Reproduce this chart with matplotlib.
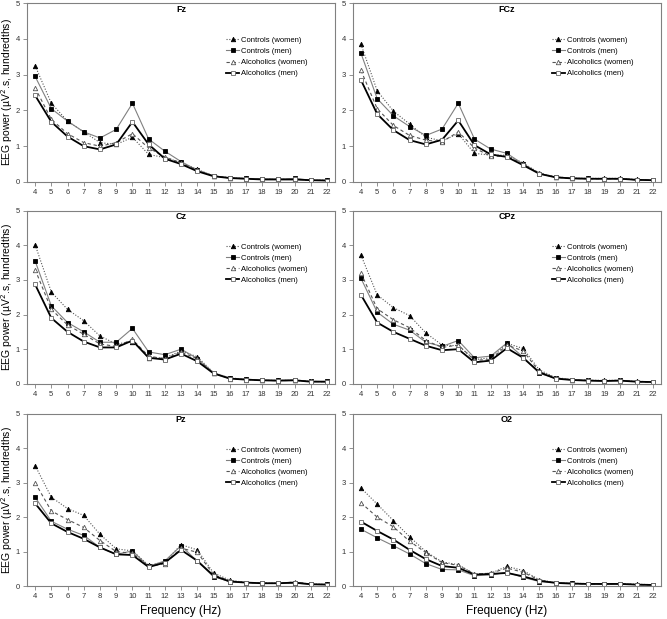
import matplotlib
matplotlib.use("Agg")
import matplotlib.pyplot as plt
import numpy as np

plt.rcParams['font.family'] = ['Liberation Sans', 'DejaVu Sans']

freq = list(range(4, 23))
groups = ['Controls (women)', 'Controls (men)', 'Alcoholics (women)', 'Alcoholics (men)']

fz = [
    [3.25, 2.2, 1.7, 1.4, 1.1, 1.05, 1.25, 0.77, 0.68, 0.55, 0.35, 0.17, 0.12, 0.1, 0.08, 0.08, 0.08, 0.05, 0.05],
    [2.95, 2.05, 1.7, 1.4, 1.23, 1.47, 2.2, 1.2, 0.86, 0.57, 0.33, 0.17, 0.12, 0.1, 0.09, 0.08, 0.1, 0.05, 0.05],
    [2.63, 1.75, 1.35, 1.1, 1.0, 1.1, 1.35, 0.95, 0.7, 0.53, 0.33, 0.17, 0.11, 0.09, 0.08, 0.07, 0.08, 0.05, 0.04],
    [2.42, 1.68, 1.27, 1.0, 0.91, 1.05, 1.68, 1.05, 0.65, 0.5, 0.3, 0.16, 0.11, 0.09, 0.07, 0.07, 0.07, 0.05, 0.04],
]
fcz = [
    [3.85, 2.55, 1.98, 1.62, 1.25, 1.15, 1.35, 0.8, 0.75, 0.75, 0.53, 0.25, 0.14, 0.11, 0.1, 0.1, 0.1, 0.07, 0.05],
    [3.6, 2.33, 1.85, 1.55, 1.3, 1.48, 2.2, 1.2, 0.92, 0.8, 0.5, 0.23, 0.14, 0.11, 0.1, 0.09, 0.09, 0.06, 0.05],
    [3.12, 2.05, 1.58, 1.3, 1.17, 1.12, 1.4, 0.95, 0.72, 0.72, 0.5, 0.24, 0.13, 0.1, 0.09, 0.09, 0.09, 0.06, 0.05],
    [2.85, 1.9, 1.45, 1.17, 1.05, 1.18, 1.72, 1.03, 0.77, 0.7, 0.47, 0.23, 0.13, 0.1, 0.09, 0.09, 0.09, 0.06, 0.05],
]
cz = [
    [4.02, 2.65, 2.15, 1.82, 1.38, 1.15, 1.22, 0.75, 0.75, 0.95, 0.78, 0.32, 0.17, 0.13, 0.1, 0.1, 0.1, 0.07, 0.06],
    [3.55, 2.25, 1.77, 1.5, 1.2, 1.2, 1.6, 0.92, 0.84, 1.0, 0.73, 0.32, 0.16, 0.13, 0.11, 0.1, 0.11, 0.07, 0.07],
    [3.3, 2.15, 1.7, 1.43, 1.15, 1.08, 1.28, 0.8, 0.72, 0.92, 0.72, 0.3, 0.15, 0.12, 0.1, 0.09, 0.1, 0.07, 0.06],
    [2.87, 1.9, 1.5, 1.22, 1.05, 1.05, 1.25, 0.75, 0.7, 0.87, 0.65, 0.3, 0.15, 0.12, 0.1, 0.09, 0.1, 0.06, 0.06],
]
cpz = [
    [3.72, 2.57, 2.2, 1.97, 1.47, 1.12, 1.1, 0.7, 0.75, 1.17, 1.02, 0.4, 0.18, 0.12, 0.1, 0.1, 0.1, 0.07, 0.06],
    [3.05, 2.07, 1.72, 1.55, 1.2, 1.08, 1.25, 0.75, 0.8, 1.18, 0.77, 0.3, 0.16, 0.12, 0.1, 0.09, 0.1, 0.06, 0.06],
    [3.2, 2.17, 1.85, 1.62, 1.25, 1.05, 1.12, 0.68, 0.7, 1.12, 0.95, 0.35, 0.17, 0.11, 0.1, 0.09, 0.1, 0.06, 0.05],
    [2.57, 1.77, 1.5, 1.3, 1.1, 0.97, 1.0, 0.62, 0.67, 1.03, 0.75, 0.33, 0.15, 0.11, 0.09, 0.08, 0.09, 0.06, 0.05],
]
pz = [
    [3.5, 2.58, 2.25, 2.05, 1.5, 1.08, 1.02, 0.6, 0.7, 1.2, 1.05, 0.38, 0.17, 0.1, 0.09, 0.08, 0.1, 0.06, 0.05],
    [2.58, 1.88, 1.65, 1.47, 1.12, 0.92, 1.02, 0.57, 0.73, 1.17, 0.72, 0.27, 0.13, 0.1, 0.08, 0.08, 0.08, 0.05, 0.05],
    [3.0, 2.18, 1.93, 1.7, 1.32, 1.0, 0.95, 0.57, 0.65, 1.1, 0.98, 0.33, 0.15, 0.1, 0.08, 0.07, 0.12, 0.05, 0.04],
    [2.4, 1.82, 1.57, 1.37, 1.12, 0.92, 0.9, 0.55, 0.68, 1.05, 0.73, 0.3, 0.13, 0.1, 0.08, 0.08, 0.1, 0.05, 0.04],
]
o2 = [
    [2.85, 2.38, 1.9, 1.43, 1.0, 0.7, 0.62, 0.35, 0.37, 0.57, 0.45, 0.18, 0.1, 0.08, 0.07, 0.06, 0.07, 0.05, 0.04],
    [1.65, 1.4, 1.17, 0.93, 0.65, 0.48, 0.47, 0.3, 0.32, 0.4, 0.25, 0.13, 0.1, 0.08, 0.06, 0.06, 0.06, 0.04, 0.03],
    [2.42, 2.0, 1.72, 1.3, 0.97, 0.68, 0.6, 0.35, 0.37, 0.52, 0.4, 0.17, 0.09, 0.07, 0.06, 0.06, 0.07, 0.04, 0.03],
    [1.87, 1.6, 1.35, 1.05, 0.78, 0.58, 0.53, 0.33, 0.35, 0.38, 0.28, 0.15, 0.09, 0.07, 0.06, 0.06, 0.06, 0.04, 0.03],
]

panels = [('Fz', fz), ('FCz', fcz), ('Cz', cz), ('CPz', cpz), ('Pz', pz), ('O2', o2)]

# line style per group
styles = [
    dict(ls=(0, (1, 1.5)), color='#555555', lw=0.8, marker='^', mfc='black', mec='black'),
    dict(ls='-', color='#808080', lw=0.8, marker='s', mfc='black', mec='black'),
    dict(ls=(0, (3, 2.5)), color='#555555', lw=0.8, marker='^', mfc='white', mec='#555555'),
    dict(ls='-', color='black', lw=1.3, marker='s', mfc='white', mec='#666666'),
]

fig = plt.figure(figsize=(6.67, 6.19), dpi=100)

lefts = [0.0405, 0.529]
rows = [(0.706, 0.289), (0.380, 0.2795), (0.0533, 0.278)]

for i, (name, data) in enumerate(panels):
    r, c = divmod(i, 2)
    ax = fig.add_axes([lefts[c], rows[r][0], 0.462, rows[r][1]])
    for g, vals, st in zip(groups, data, styles):
        ax.plot(freq, vals, linestyle=st['ls'], color=st['color'], lw=st['lw'],
                marker=st['marker'], markersize=3.2, markerfacecolor=st['mfc'],
                markeredgecolor=st['mec'], markeredgewidth=0.6, label=g)
    ax.set_xlim(3.5, 22.5)
    ax.set_ylim(0, 5)
    ax.set_xticks(freq)
    ax.set_yticks(range(0, 6))
    ax.tick_params(labelsize=5.5, length=3, width=0.6, color='#808080',
                   labelcolor='#333333', pad=2)
    for s in ax.spines.values():
        s.set_color('#808080')
        s.set_linewidth(0.8)
    ax.text(0.5, 0.965, name, transform=ax.transAxes, ha='center', va='center',
            fontsize=6.5, fontweight='bold')
    ax.legend(loc='upper left', bbox_to_anchor=(0.635, 0.83), frameon=False,
              fontsize=5.5, handlelength=1.8, handletextpad=0.2,
              labelspacing=0.5, borderaxespad=0)
    if c == 0:
        ax.set_ylabel('EEG power (\u00b5V$^2$.s, hundredths)', fontsize=7.5)
        ax.yaxis.set_label_coords(-0.038, 0.5)
    if r == 2:
        ax.set_xlabel('Frequency (Hz)', fontsize=8.5)
        ax.xaxis.set_label_coords(0.5, -0.11)

fig.savefig('out.png', dpi=100)
